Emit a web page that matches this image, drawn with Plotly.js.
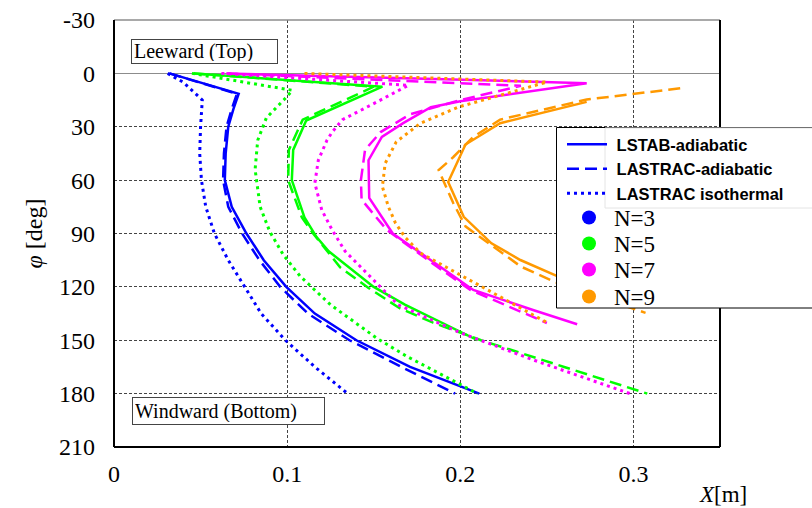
<!DOCTYPE html>
<html>
<head>
<meta charset="utf-8">
<script src="https://cdn.plot.ly/plotly-3.0.1.min.js"></script>
<style>html,body{margin:0;padding:0;background:#fff;}#chart{width:812px;height:508px;}</style>
</head>
<body>
<div id="chart"></div>
<script>
// ---- data (phi in degrees, X in metres) ----
// N = 3
var phi_n3_lstab = [0, 11.5, 20, 30, 45, 60, 75, 90, 105, 120, 135, 150, 165, 180];
var x_n3_lstab   = [0.032, 0.072, 0.069, 0.066, 0.0645, 0.064, 0.068, 0.0765, 0.0865, 0.0995, 0.116, 0.14, 0.171, 0.211];
var phi_n3_lastrac = [0, 11.5, 20, 30, 45, 60, 75, 90, 105, 120, 135, 150, 165, 180];
var x_n3_lastrac   = [0.032, 0.071, 0.068, 0.065, 0.0635, 0.063, 0.066, 0.074, 0.084, 0.096, 0.112, 0.136, 0.166, 0.197];
var phi_n3_iso = [0, 5, 15, 30, 45, 60, 75, 90, 105, 120, 135, 150, 165, 180];
var x_n3_iso   = [0.031, 0.040, 0.051, 0.050, 0.0495, 0.0505, 0.053, 0.058, 0.066, 0.0755, 0.085, 0.099, 0.116, 0.135];
// N = 5
var phi_n5_lstab = [0, 7.5, 26.5, 43, 60, 81, 92, 100, 120, 130, 150];
var x_n5_lstab   = [0.046, 0.155, 0.111, 0.1035, 0.1027, 0.110, 0.117, 0.124, 0.150, 0.168, 0.21];
var phi_n5_lastrac = [0, 7.5, 26, 43, 60, 81, 90, 109, 120.6, 132, 140, 150, 165, 180];
var x_n5_lastrac   = [0.046, 0.150, 0.109, 0.101, 0.1006, 0.1085, 0.115, 0.1306, 0.147, 0.165, 0.184, 0.212, 0.26, 0.308];
var phi_n5_iso = [0, 9.5, 15, 25, 37.6, 54, 75, 89, 102, 114, 130, 149, 159, 180];
var x_n5_iso   = [0.045, 0.103, 0.098, 0.088, 0.083, 0.0815, 0.0844, 0.090, 0.0978, 0.1075, 0.125, 0.152, 0.169, 0.21];
// N = 7
var phi_n7_lstab = [0, 5.5, 15.7, 19, 28, 35.7, 48.8, 70, 90, 101, 121.7, 133, 141];
var x_n7_lstab   = [0.065, 0.273, 0.2, 0.183, 0.167, 0.1547, 0.147, 0.1474, 0.161, 0.177, 0.2075, 0.242, 0.2675];
var phi_n7_lastrac = [0, 7, 15, 23, 33, 43, 60, 71, 88, 108.6, 121.7, 140.3];
var x_n7_lastrac   = [0.065, 0.235, 0.2, 0.171, 0.154, 0.145, 0.1426, 0.143, 0.1576, 0.1865, 0.2058, 0.25];
var phi_n7_iso = [0, 6.7, 17, 26, 33, 37.6, 48.8, 61.7, 76.8, 88, 100, 106.5, 130, 145.8, 161, 180];
var x_n7_iso   = [0.062, 0.17, 0.15, 0.132, 0.126, 0.123, 0.118, 0.116, 0.12, 0.126, 0.1335, 0.14, 0.164, 0.2, 0.242, 0.298];
// N = 9
var phi_n9_lstab = [16, 28, 40, 61, 80.6, 95.5, 104.9, 114, 128];
var x_n9_lstab   = [0.273, 0.223, 0.203, 0.193, 0.202, 0.218, 0.2347, 0.256, 0.29];
var phi_n9_lastrac = [8.4, 14.7, 26, 35.7, 47, 54.4, 73, 86, 108.6, 117, 134.6];
var x_n9_lastrac   = [0.327, 0.273, 0.223, 0.2075, 0.196, 0.1875, 0.196, 0.203, 0.235, 0.254, 0.307];
var phi_n9_iso = [0, 4.9, 18.9, 28, 38.5, 50.6, 63.7, 75, 84, 92, 101, 121.7, 140];
var x_n9_iso   = [0.11, 0.25, 0.199, 0.177, 0.163, 0.1566, 0.155, 0.1585, 0.1625, 0.168, 0.177, 0.216, 0.25];

var caseNames  = ['N=3', 'N=5', 'N=7', 'N=9'];
var caseColors = ['#0000ff', '#00ff00', '#ff00ff', '#ff9900'];
var methodNames = ['LSTAB-adiabatic', 'LASTRAC-adiabatic', 'LASTRAC isothermal'];
var xTickVals = [0, 0.1, 0.2, 0.3];
var xTickText = ['0', '0.1', '0.2', '0.3'];
var yTickVals = [-30, 0, 30, 60, 90, 120, 150, 180, 210];
var yTickText = ['-30', '0', '30', '60', '90', '120', '150', '180', '210'];

var seriesX = [
  [x_n3_lstab, x_n3_lastrac, x_n3_iso],
  [x_n5_lstab, x_n5_lastrac, x_n5_iso],
  [x_n7_lstab, x_n7_lastrac, x_n7_iso],
  [x_n9_lstab, x_n9_lastrac, x_n9_iso]
];
var seriesPhi = [
  [phi_n3_lstab, phi_n3_lastrac, phi_n3_iso],
  [phi_n5_lstab, phi_n5_lastrac, phi_n5_iso],
  [phi_n7_lstab, phi_n7_lastrac, phi_n7_iso],
  [phi_n9_lstab, phi_n9_lastrac, phi_n9_iso]
];
var dashes = ['solid', '12px,6px', '3px,4px'];
var widths = [2.5, 2.5, 3];

var traces = [];
for (var c = 0; c < 4; c++) {
  for (var m = 0; m < 3; m++) {
    traces.push({
      type: 'scatter', mode: 'lines',
      x: seriesX[c][m], y: seriesPhi[c][m],
      line: {color: caseColors[c], width: widths[m], dash: dashes[m]},
      showlegend: false, hoverinfo: 'skip'
    });
  }
}
// legend entries: line styles (legend) and one legend per case (legend2..legend5)
for (var m = 0; m < 3; m++) {
  traces.push({
    type: 'scatter', mode: 'lines', x: [null], y: [null],
    name: ' ' + methodNames[m],
    line: {color: '#0000ff', width: widths[m], dash: dashes[m]},
    showlegend: true, legend: 'legend'
  });
}
for (var c = 0; c < 4; c++) {
  traces.push({
    type: 'scatter', mode: 'markers', x: [null], y: [null],
    name: caseNames[c],
    marker: {color: caseColors[c], size: 14, symbol: 'circle'},
    showlegend: true, legend: 'legend' + (c + 2)
  });
}

var serif = 'Liberation Serif, Times New Roman, serif';
var W = 812 - 114 - 92, H = 508 - 20 - 61;
function px(x) { return (x - 114) / W; }
function py(y) { return (447 - y) / H; }

var layout = {
  width: 812, height: 508,
  margin: {l: 114, r: 92, t: 20, b: 61},
  paper_bgcolor: '#ffffff', plot_bgcolor: '#ffffff',
  font: {family: serif, size: 24, color: '#000'},
  showlegend: true,
  legend: {
    x: px(562), y: py(127), xanchor: 'left', yanchor: 'top',
    bgcolor: 'rgba(0,0,0,0)', borderwidth: 0,
    font: {family: 'Liberation Sans, Arial, sans-serif', size: 16.5, weight: 'bold', color: '#000'},
    tracegroupgap: 0, itemwidth: 40
  },
  xaxis: {
    range: [0, 0.35], tickvals: xTickVals, ticktext: xTickText,
    showgrid: true, gridcolor: '#444', griddash: '3px,2px', gridwidth: 1,
    zeroline: false, showline: false, ticks: '', ticklabelstandoff: 10,
    tickfont: {family: serif, size: 24, color: '#000'},
    title: {text: ''}
  },
  yaxis: {
    range: [210, -30], tickvals: yTickVals, ticktext: yTickText,
    showgrid: true, gridcolor: '#444', griddash: '3px,2px', gridwidth: 1,
    zeroline: true, zerolinecolor: '#8c8c8c', zerolinewidth: 1.5,
    showline: false, ticks: '', ticklabelstandoff: 18,
    tickfont: {family: serif, size: 24, color: '#000'},
    title: {text: '<i>φ</i> [deg]', font: {family: serif, size: 24, color: '#000'}, standoff: 9}
  },
  shapes: [
    {type: 'line', xref: 'paper', yref: 'paper', x0: 0, x1: 1, y0: 1, y1: 1, line: {color: '#8c8c8c', width: 1.5}},
    {type: 'line', xref: 'paper', yref: 'paper', x0: 0, x1: 0, y0: 0, y1: 1, line: {color: '#000', width: 2}},
    {type: 'line', xref: 'paper', yref: 'paper', x0: 0, x1: 1, y0: 0, y1: 0, line: {color: '#000', width: 2}},
    {type: 'line', xref: 'paper', yref: 'paper', x0: 1, x1: 1, y0: 0, y1: 1, line: {color: '#000', width: 2}},
    // legend frames
    {type: 'rect', xref: 'paper', yref: 'paper', layer: 'above', x0: px(556.5), x1: px(830), y0: py(308), y1: py(127.5),
     fillcolor: '#ffffff', line: {color: '#000', width: 1}},
    {type: 'rect', xref: 'paper', yref: 'paper', layer: 'above', x0: px(605), x1: px(830), y0: py(208), y1: py(128),
     fillcolor: '#ffffff', line: {color: '#e4e4e4', width: 1}}
  ],
  annotations: [
    {text: 'Leeward (Top)', x: 0.0098, y: -19.6, xref: 'x', yref: 'y', xanchor: 'left', yanchor: 'top',
     showarrow: false, align: 'left', valign: 'middle', width: 141, height: 19, borderpad: 2, bordercolor: '#444', borderwidth: 1, bgcolor: '#fff',
     font: {family: serif, size: 20, color: '#000'}},
    {text: 'Windward (Bottom)', x: 0.0104, y: 181.7, xref: 'x', yref: 'y', xanchor: 'left', yanchor: 'top',
     showarrow: false, align: 'left', valign: 'middle', width: 187, height: 22, borderpad: 2, bordercolor: '#444', borderwidth: 1, bgcolor: '#fff',
     font: {family: serif, size: 20, color: '#000'}},
    {text: '<i>X</i>[m]', x: px(723), y: py(495), xref: 'paper', yref: 'paper', xanchor: 'center', yanchor: 'middle', showarrow: false,
     font: {family: serif, size: 23, color: '#000'}}
  ]
};
var caseRowY = [218, 244, 270, 297];
for (var c = 0; c < 4; c++) {
  layout['legend' + (c + 2)] = {
    x: px(564), y: py(caseRowY[c] - 22), xanchor: 'left', yanchor: 'top',
    bgcolor: 'rgba(0,0,0,0)', borderwidth: 0,
    font: {family: serif, size: 23, color: '#000'},
    tracegroupgap: 0, itemwidth: 40
  };
}

Plotly.newPlot('chart', traces, layout, {displayModeBar: false, staticPlot: true});
</script>
</body>
</html>
